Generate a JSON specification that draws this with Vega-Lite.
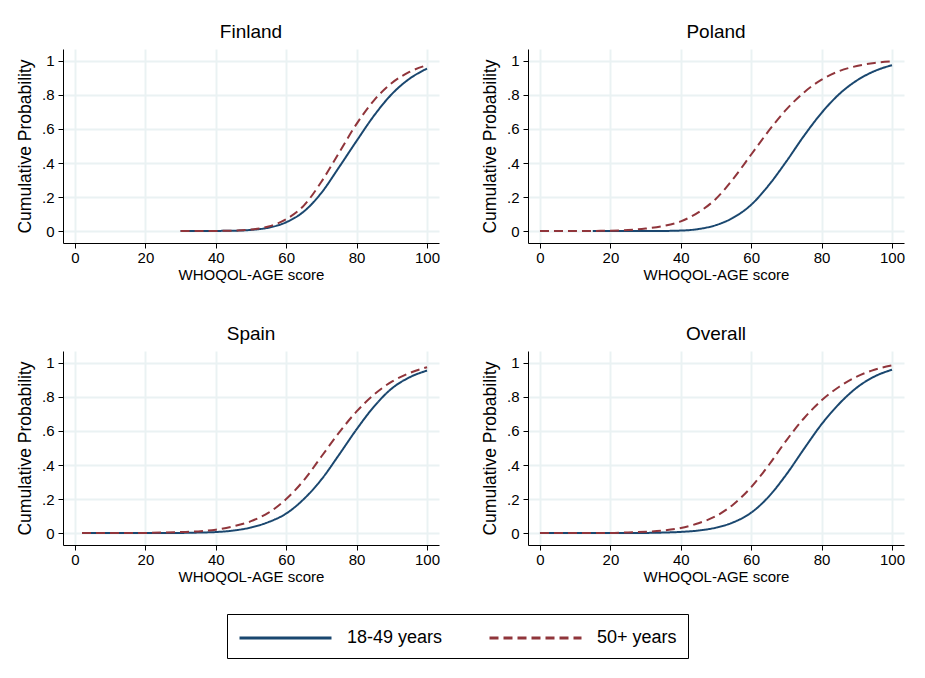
{
  "$schema": "https://vega.github.io/schema/vega-lite/v6.json",
  "background": "white",
  "padding": {"left": 16, "top": 23, "right": 5, "bottom": 5},
  "data": {"values": [
    {"country":"Finland","group":"18-49 years","score":30,"prob":0},
    {"country":"Finland","group":"18-49 years","score":35,"prob":0},
    {"country":"Finland","group":"18-49 years","score":40,"prob":0.001},
    {"country":"Finland","group":"18-49 years","score":45,"prob":0.002},
    {"country":"Finland","group":"18-49 years","score":50,"prob":0.007},
    {"country":"Finland","group":"18-49 years","score":55,"prob":0.02},
    {"country":"Finland","group":"18-49 years","score":60,"prob":0.052},
    {"country":"Finland","group":"18-49 years","score":65,"prob":0.115},
    {"country":"Finland","group":"18-49 years","score":70,"prob":0.225},
    {"country":"Finland","group":"18-49 years","score":75,"prob":0.375},
    {"country":"Finland","group":"18-49 years","score":80,"prob":0.53},
    {"country":"Finland","group":"18-49 years","score":85,"prob":0.68},
    {"country":"Finland","group":"18-49 years","score":90,"prob":0.805},
    {"country":"Finland","group":"18-49 years","score":95,"prob":0.895},
    {"country":"Finland","group":"18-49 years","score":100,"prob":0.955},
    {"country":"Finland","group":"50+ years","score":30,"prob":0},
    {"country":"Finland","group":"50+ years","score":35,"prob":0},
    {"country":"Finland","group":"50+ years","score":40,"prob":0.001},
    {"country":"Finland","group":"50+ years","score":45,"prob":0.003},
    {"country":"Finland","group":"50+ years","score":50,"prob":0.009},
    {"country":"Finland","group":"50+ years","score":55,"prob":0.027},
    {"country":"Finland","group":"50+ years","score":60,"prob":0.07},
    {"country":"Finland","group":"50+ years","score":65,"prob":0.15},
    {"country":"Finland","group":"50+ years","score":70,"prob":0.29},
    {"country":"Finland","group":"50+ years","score":75,"prob":0.46},
    {"country":"Finland","group":"50+ years","score":80,"prob":0.63},
    {"country":"Finland","group":"50+ years","score":85,"prob":0.77},
    {"country":"Finland","group":"50+ years","score":90,"prob":0.87},
    {"country":"Finland","group":"50+ years","score":95,"prob":0.935},
    {"country":"Finland","group":"50+ years","score":100,"prob":0.975},
    {"country":"Poland","group":"18-49 years","score":15,"prob":0},
    {"country":"Poland","group":"18-49 years","score":20,"prob":0},
    {"country":"Poland","group":"18-49 years","score":25,"prob":0},
    {"country":"Poland","group":"18-49 years","score":30,"prob":0.001},
    {"country":"Poland","group":"18-49 years","score":35,"prob":0.001},
    {"country":"Poland","group":"18-49 years","score":40,"prob":0.003},
    {"country":"Poland","group":"18-49 years","score":45,"prob":0.012},
    {"country":"Poland","group":"18-49 years","score":50,"prob":0.035},
    {"country":"Poland","group":"18-49 years","score":55,"prob":0.08},
    {"country":"Poland","group":"18-49 years","score":60,"prob":0.155},
    {"country":"Poland","group":"18-49 years","score":65,"prob":0.27},
    {"country":"Poland","group":"18-49 years","score":70,"prob":0.41},
    {"country":"Poland","group":"18-49 years","score":75,"prob":0.56},
    {"country":"Poland","group":"18-49 years","score":80,"prob":0.695},
    {"country":"Poland","group":"18-49 years","score":85,"prob":0.805},
    {"country":"Poland","group":"18-49 years","score":90,"prob":0.885},
    {"country":"Poland","group":"18-49 years","score":95,"prob":0.94},
    {"country":"Poland","group":"18-49 years","score":100,"prob":0.975},
    {"country":"Poland","group":"50+ years","score":0,"prob":0},
    {"country":"Poland","group":"50+ years","score":5,"prob":0},
    {"country":"Poland","group":"50+ years","score":10,"prob":0},
    {"country":"Poland","group":"50+ years","score":15,"prob":0.001},
    {"country":"Poland","group":"50+ years","score":20,"prob":0.002},
    {"country":"Poland","group":"50+ years","score":25,"prob":0.006},
    {"country":"Poland","group":"50+ years","score":30,"prob":0.015},
    {"country":"Poland","group":"50+ years","score":35,"prob":0.03},
    {"country":"Poland","group":"50+ years","score":40,"prob":0.057},
    {"country":"Poland","group":"50+ years","score":45,"prob":0.11},
    {"country":"Poland","group":"50+ years","score":50,"prob":0.19},
    {"country":"Poland","group":"50+ years","score":55,"prob":0.31},
    {"country":"Poland","group":"50+ years","score":60,"prob":0.45},
    {"country":"Poland","group":"50+ years","score":65,"prob":0.59},
    {"country":"Poland","group":"50+ years","score":70,"prob":0.715},
    {"country":"Poland","group":"50+ years","score":75,"prob":0.815},
    {"country":"Poland","group":"50+ years","score":80,"prob":0.89},
    {"country":"Poland","group":"50+ years","score":85,"prob":0.94},
    {"country":"Poland","group":"50+ years","score":90,"prob":0.97},
    {"country":"Poland","group":"50+ years","score":95,"prob":0.988},
    {"country":"Poland","group":"50+ years","score":100,"prob":0.997},
    {"country":"Spain","group":"18-49 years","score":2,"prob":0},
    {"country":"Spain","group":"18-49 years","score":10,"prob":0},
    {"country":"Spain","group":"18-49 years","score":20,"prob":0},
    {"country":"Spain","group":"18-49 years","score":30,"prob":0.001},
    {"country":"Spain","group":"18-49 years","score":35,"prob":0.003},
    {"country":"Spain","group":"18-49 years","score":40,"prob":0.006},
    {"country":"Spain","group":"18-49 years","score":45,"prob":0.015},
    {"country":"Spain","group":"18-49 years","score":50,"prob":0.033},
    {"country":"Spain","group":"18-49 years","score":55,"prob":0.065},
    {"country":"Spain","group":"18-49 years","score":60,"prob":0.115},
    {"country":"Spain","group":"18-49 years","score":65,"prob":0.2},
    {"country":"Spain","group":"18-49 years","score":70,"prob":0.315},
    {"country":"Spain","group":"18-49 years","score":75,"prob":0.46},
    {"country":"Spain","group":"18-49 years","score":80,"prob":0.61},
    {"country":"Spain","group":"18-49 years","score":85,"prob":0.745},
    {"country":"Spain","group":"18-49 years","score":90,"prob":0.85},
    {"country":"Spain","group":"18-49 years","score":95,"prob":0.915},
    {"country":"Spain","group":"18-49 years","score":100,"prob":0.955},
    {"country":"Spain","group":"50+ years","score":2,"prob":0},
    {"country":"Spain","group":"50+ years","score":10,"prob":0},
    {"country":"Spain","group":"50+ years","score":20,"prob":0.001},
    {"country":"Spain","group":"50+ years","score":25,"prob":0.003},
    {"country":"Spain","group":"50+ years","score":30,"prob":0.006},
    {"country":"Spain","group":"50+ years","score":35,"prob":0.01},
    {"country":"Spain","group":"50+ years","score":40,"prob":0.02},
    {"country":"Spain","group":"50+ years","score":45,"prob":0.04},
    {"country":"Spain","group":"50+ years","score":50,"prob":0.07},
    {"country":"Spain","group":"50+ years","score":55,"prob":0.12},
    {"country":"Spain","group":"50+ years","score":60,"prob":0.2},
    {"country":"Spain","group":"50+ years","score":65,"prob":0.31},
    {"country":"Spain","group":"50+ years","score":70,"prob":0.45},
    {"country":"Spain","group":"50+ years","score":75,"prob":0.59},
    {"country":"Spain","group":"50+ years","score":80,"prob":0.715},
    {"country":"Spain","group":"50+ years","score":85,"prob":0.815},
    {"country":"Spain","group":"50+ years","score":90,"prob":0.89},
    {"country":"Spain","group":"50+ years","score":95,"prob":0.94},
    {"country":"Spain","group":"50+ years","score":100,"prob":0.975},
    {"country":"Overall","group":"18-49 years","score":0,"prob":0},
    {"country":"Overall","group":"18-49 years","score":10,"prob":0},
    {"country":"Overall","group":"18-49 years","score":20,"prob":0},
    {"country":"Overall","group":"18-49 years","score":30,"prob":0.001},
    {"country":"Overall","group":"18-49 years","score":35,"prob":0.003},
    {"country":"Overall","group":"18-49 years","score":40,"prob":0.007},
    {"country":"Overall","group":"18-49 years","score":45,"prob":0.015},
    {"country":"Overall","group":"18-49 years","score":50,"prob":0.032},
    {"country":"Overall","group":"18-49 years","score":55,"prob":0.064},
    {"country":"Overall","group":"18-49 years","score":60,"prob":0.12},
    {"country":"Overall","group":"18-49 years","score":65,"prob":0.215},
    {"country":"Overall","group":"18-49 years","score":70,"prob":0.345},
    {"country":"Overall","group":"18-49 years","score":75,"prob":0.495},
    {"country":"Overall","group":"18-49 years","score":80,"prob":0.64},
    {"country":"Overall","group":"18-49 years","score":85,"prob":0.76},
    {"country":"Overall","group":"18-49 years","score":90,"prob":0.855},
    {"country":"Overall","group":"18-49 years","score":95,"prob":0.92},
    {"country":"Overall","group":"18-49 years","score":100,"prob":0.96},
    {"country":"Overall","group":"50+ years","score":0,"prob":0},
    {"country":"Overall","group":"50+ years","score":10,"prob":0},
    {"country":"Overall","group":"50+ years","score":20,"prob":0.001},
    {"country":"Overall","group":"50+ years","score":25,"prob":0.004},
    {"country":"Overall","group":"50+ years","score":30,"prob":0.008},
    {"country":"Overall","group":"50+ years","score":35,"prob":0.015},
    {"country":"Overall","group":"50+ years","score":40,"prob":0.03},
    {"country":"Overall","group":"50+ years","score":45,"prob":0.058},
    {"country":"Overall","group":"50+ years","score":50,"prob":0.1},
    {"country":"Overall","group":"50+ years","score":55,"prob":0.17},
    {"country":"Overall","group":"50+ years","score":60,"prob":0.27},
    {"country":"Overall","group":"50+ years","score":65,"prob":0.4},
    {"country":"Overall","group":"50+ years","score":70,"prob":0.545},
    {"country":"Overall","group":"50+ years","score":75,"prob":0.675},
    {"country":"Overall","group":"50+ years","score":80,"prob":0.78},
    {"country":"Overall","group":"50+ years","score":85,"prob":0.86},
    {"country":"Overall","group":"50+ years","score":90,"prob":0.92},
    {"country":"Overall","group":"50+ years","score":95,"prob":0.96},
    {"country":"Overall","group":"50+ years","score":100,"prob":0.985}
  ]},
  "columns": 2,
  "spacing": {"row": 108, "column": 89},
  "bounds": "flush",
  "concat": [
    {
      "title": "Finland",
      "width": 376, "height": 194,
      "transform": [{"filter": "datum.country === 'Finland'"}],
      "mark": {"type": "line", "strokeWidth": 2, "interpolate": "monotone"},
      "encoding": {
        "x": {"field": "score", "type": "quantitative", "scale": {"domain": [-3.4, 103.4], "nice": false, "zero": false}, "axis": {"values": [0, 20, 40, 60, 80, 100], "title": "WHOQOL-AGE score"}},
        "y": {"field": "prob", "type": "quantitative", "scale": {"domain": [-0.07, 1.07], "nice": false, "zero": false}, "axis": {"values": [0, 0.2, 0.4, 0.6, 0.8, 1], "labelExpr": "datum.value == 0 ? '0' : datum.value == 1 ? '1' : '.' + round(datum.value * 10)", "title": "Cumulative Probability"}},
        "color": {"field": "group", "type": "nominal", "scale": {"domain": ["18-49 years", "50+ years"], "range": ["#1a476f", "#90353b"]}, "legend": {"title": null}},
        "strokeDash": {"field": "group", "type": "nominal", "scale": {"domain": ["18-49 years", "50+ years"], "range": [[1, 0], [9, 5]]}, "legend": {"title": null}}
      }
    },
    {
      "title": "Poland",
      "width": 376, "height": 194,
      "transform": [{"filter": "datum.country === 'Poland'"}],
      "mark": {"type": "line", "strokeWidth": 2, "interpolate": "monotone"},
      "encoding": {
        "x": {"field": "score", "type": "quantitative", "scale": {"domain": [-3.4, 103.4], "nice": false, "zero": false}, "axis": {"values": [0, 20, 40, 60, 80, 100], "title": "WHOQOL-AGE score"}},
        "y": {"field": "prob", "type": "quantitative", "scale": {"domain": [-0.07, 1.07], "nice": false, "zero": false}, "axis": {"values": [0, 0.2, 0.4, 0.6, 0.8, 1], "labelExpr": "datum.value == 0 ? '0' : datum.value == 1 ? '1' : '.' + round(datum.value * 10)", "title": "Cumulative Probability"}},
        "color": {"field": "group", "type": "nominal", "scale": {"domain": ["18-49 years", "50+ years"], "range": ["#1a476f", "#90353b"]}, "legend": {"title": null}},
        "strokeDash": {"field": "group", "type": "nominal", "scale": {"domain": ["18-49 years", "50+ years"], "range": [[1, 0], [9, 5]]}, "legend": {"title": null}}
      }
    },
    {
      "title": "Spain",
      "width": 376, "height": 194,
      "transform": [{"filter": "datum.country === 'Spain'"}],
      "mark": {"type": "line", "strokeWidth": 2, "interpolate": "monotone"},
      "encoding": {
        "x": {"field": "score", "type": "quantitative", "scale": {"domain": [-3.4, 103.4], "nice": false, "zero": false}, "axis": {"values": [0, 20, 40, 60, 80, 100], "title": "WHOQOL-AGE score"}},
        "y": {"field": "prob", "type": "quantitative", "scale": {"domain": [-0.07, 1.07], "nice": false, "zero": false}, "axis": {"values": [0, 0.2, 0.4, 0.6, 0.8, 1], "labelExpr": "datum.value == 0 ? '0' : datum.value == 1 ? '1' : '.' + round(datum.value * 10)", "title": "Cumulative Probability"}},
        "color": {"field": "group", "type": "nominal", "scale": {"domain": ["18-49 years", "50+ years"], "range": ["#1a476f", "#90353b"]}, "legend": {"title": null}},
        "strokeDash": {"field": "group", "type": "nominal", "scale": {"domain": ["18-49 years", "50+ years"], "range": [[1, 0], [9, 5]]}, "legend": {"title": null}}
      }
    },
    {
      "title": "Overall",
      "width": 376, "height": 194,
      "transform": [{"filter": "datum.country === 'Overall'"}],
      "mark": {"type": "line", "strokeWidth": 2, "interpolate": "monotone"},
      "encoding": {
        "x": {"field": "score", "type": "quantitative", "scale": {"domain": [-3.4, 103.4], "nice": false, "zero": false}, "axis": {"values": [0, 20, 40, 60, 80, 100], "title": "WHOQOL-AGE score"}},
        "y": {"field": "prob", "type": "quantitative", "scale": {"domain": [-0.07, 1.07], "nice": false, "zero": false}, "axis": {"values": [0, 0.2, 0.4, 0.6, 0.8, 1], "labelExpr": "datum.value == 0 ? '0' : datum.value == 1 ? '1' : '.' + round(datum.value * 10)", "title": "Cumulative Probability"}},
        "color": {"field": "group", "type": "nominal", "scale": {"domain": ["18-49 years", "50+ years"], "range": ["#1a476f", "#90353b"]}, "legend": {"title": null}},
        "strokeDash": {"field": "group", "type": "nominal", "scale": {"domain": ["18-49 years", "50+ years"], "range": [[1, 0], [9, 5]]}, "legend": {"title": null}}
      }
    }
  ],
  "config": {
    "font": "Liberation Sans",
    "view": {"stroke": null},
    "title": {"fontSize": 19, "fontWeight": "normal", "color": "black", "offset": 7, "anchor": "middle", "font": "Liberation Sans"},
    "axis": {
      "domainColor": "black", "domainWidth": 1,
      "tickColor": "black", "tickSize": 5, "tickWidth": 1,
      "labelColor": "black", "labelFontSize": 15, "labelFont": "Liberation Sans",
      "titleColor": "black", "titleFontWeight": "normal", "titleFont": "Liberation Sans",
      "gridColor": "#eaf2f3", "gridWidth": 2, "grid": true
    },
    "axisX": {"titleFontSize": 15, "titlePadding": 2, "labelPadding": 2},
    "axisY": {"titleFontSize": 17.5, "titlePadding": 7, "labelPadding": 4, "labelAngle": 0},
    "legend": {
      "orient": "none", "legendX": 164, "legendY": 565,
      "direction": "horizontal",
      "strokeColor": "black", "padding": 11,
      "symbolType": "M-1,0H7", "symbolSize": 529, "symbolStrokeWidth": 3,
      "labelFontSize": 18, "labelFont": "Liberation Sans", "labelColor": "black",
      "labelOffset": 83, "columnPadding": 40, "symbolOffset": 0
    }
  }
}
